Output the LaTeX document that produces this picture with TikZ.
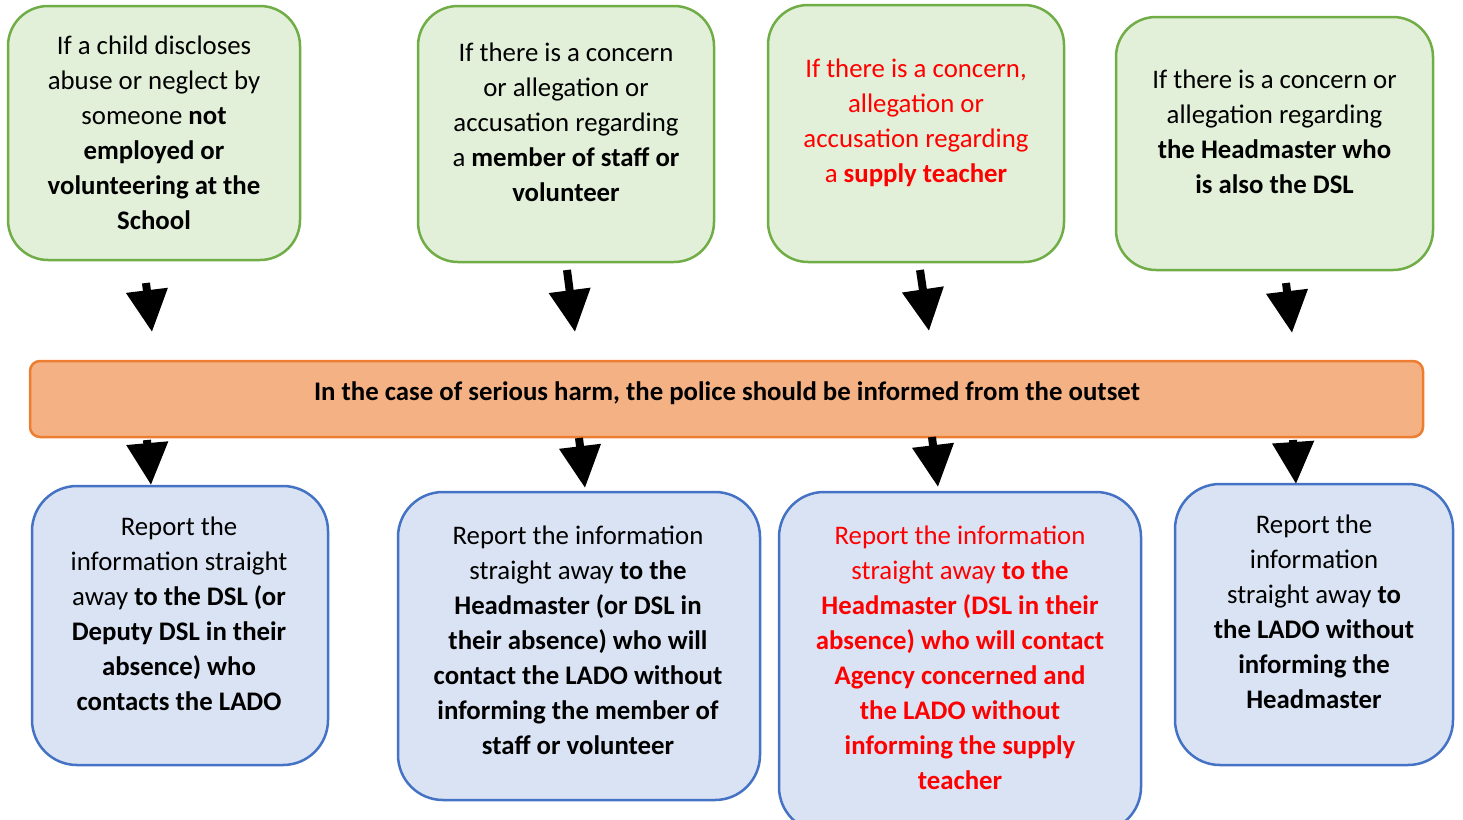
\documentclass[tikz,border=0pt]{standalone}
\usepackage{fontspec}
\setmainfont{Carlito}
\usetikzlibrary{arrows.meta}
\definecolor{gfill}{HTML}{E2F0D9}
\definecolor{gline}{HTML}{70AD47}
\definecolor{bfill}{HTML}{DAE3F3}
\definecolor{bline}{HTML}{4472C4}
\definecolor{ofill}{HTML}{F4B183}
\definecolor{oline}{HTML}{ED7D31}
\definecolor{redtxt}{HTML}{FF0000}
\begin{document}
\begin{tikzpicture}[x=1pt,y=-1pt,
  gbox/.style={draw=gline,fill=gfill,line width=2.5pt,rounded corners=40pt,inner sep=0pt},
  bbox/.style={draw=bline,fill=bfill,line width=2.5pt,rounded corners=45pt,inner sep=0pt},
  obox/.style={draw=oline,fill=ofill,line width=2.5pt,rounded corners=10pt,inner sep=0pt},
  txt/.style={align=center,inner sep=0pt,font=\fontsize{26.8}{35}\selectfont},
  redt/.style={txt,text=redtxt},
  blk/.style={line width=8pt,-{Triangle[width=40pt,length=42pt]}}]
\clip (0,0) rectangle (1463,819);
% top boxes
\node[gbox,minimum width=292pt,minimum height=254pt] (t1) at (154,133) {};
\node[gbox,minimum width=296pt,minimum height=256pt] (t2) at (566,134) {};
\node[gbox,minimum width=296pt,minimum height=257pt] (t3) at (916,133.5) {};
\node[gbox,minimum width=317pt,minimum height=253pt] (t4) at (1274.5,143.5) {};
\node[txt] (t1t) at (t1.center) {If a child discloses\\abuse or neglect by\\someone \textbf{not}\\\textbf{employed or}\\\textbf{volunteering at the}\\\textbf{School}};
\node[txt] (t2t) at (566,122) {If there is a concern\\or allegation or\\accusation regarding\\a \textbf{member of staff or}\\\textbf{volunteer}};
\node[redt] (t3t) at (916,122.5) {If there is a concern,\\allegation or\\accusation regarding\\a \textbf{supply teacher}};
\node[txt] (t4t) at (1274.5,131.5) {If there is a concern or\\allegation regarding\\\textbf{the Headmaster who}\\\textbf{is also the DSL}};
% bar
\node[obox,minimum width=1393pt,minimum height=76pt] (bar) at (726.5,399) {};
\node[txt] (bart) at (727,393) {\textbf{In the case of serious harm, the police should be informed from the outset}};
% bottom boxes
\node[bbox,minimum width=296pt,minimum height=279pt] (b1) at (180,625.5) {};
\node[bbox,minimum width=362pt,minimum height=308pt] (b2) at (579,646) {};
\node[bbox,minimum width=362pt,minimum height=340pt] (b3) at (960,662) {};
\node[bbox,minimum width=278pt,minimum height=281pt] (b4) at (1314,624.5) {};
\node[txt] (b1t) at (179,614) {Report the\\information straight\\away \textbf{to the DSL (or}\\\textbf{Deputy DSL in their}\\\textbf{absence) who}\\\textbf{contacts the LADO}};
\node[txt] (b2t) at (578,640) {Report the information\\straight away \textbf{to the}\\\textbf{Headmaster (or DSL in}\\\textbf{their absence) who will}\\\textbf{contact the LADO without}\\\textbf{informing the member of}\\\textbf{staff or volunteer}};
\node[redt] (b3t) at (960,658) {Report the information\\straight away \textbf{to the}\\\textbf{Headmaster (DSL in their}\\\textbf{absence) who will contact}\\\textbf{Agency concerned and}\\\textbf{the LADO without}\\\textbf{informing the supply}\\\textbf{teacher}};
\node[txt] (b4t) at (1314,612) {Report the\\information\\straight away \textbf{to}\\\textbf{the LADO without}\\\textbf{informing the}\\\textbf{Headmaster}};
% arrow end points
\coordinate (a1s) at (146,283); \coordinate (a1e) at (152,332);
\coordinate (a2s) at (567,270); \coordinate (a2e) at (575,332);
\coordinate (a3s) at (920,270); \coordinate (a3e) at (929,331);
\coordinate (a4s) at (1286,283); \coordinate (a4e) at (1292,333);
\coordinate (c1s) at (147,440); \coordinate (c1e) at (151,485);
\coordinate (c2s) at (579,438); \coordinate (c2e) at (585,488);
\coordinate (c3s) at (932,437); \coordinate (c3e) at (938,487);
\coordinate (c4s) at (1293,440); \coordinate (c4e) at (1296,484);
\foreach \i in {1,2,3,4}{
  \draw[blk] (a\i s) -- (a\i e);
  \draw[blk] (c\i s) -- (c\i e);
}
\end{tikzpicture}
\end{document}
